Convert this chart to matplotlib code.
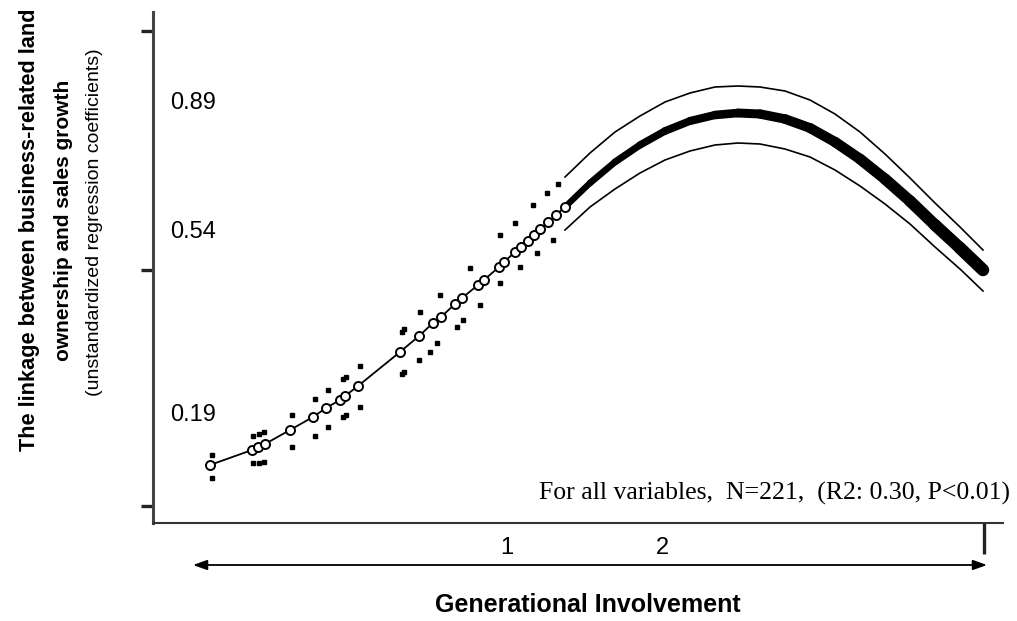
import numpy as np
import matplotlib
matplotlib.use("Agg")
import matplotlib.pyplot as plt
from matplotlib.collections import LineCollection

# observed points (left part of the curve, open circles)
obs_x = [5.7, 9.9, 10.5, 11.2, 13.7, 16.0, 17.3, 18.7, 19.2, 20.5, 24.7, 26.6, 28.0, 28.8,
         30.2, 30.9, 32.5, 33.1, 34.6, 35.1, 36.2, 36.8, 37.5, 38.1, 38.7, 39.5, 40.3, 41.2]
obs_y = [11.6, 14.6, 15.2, 15.8, 18.6, 21.2, 23.0, 24.6, 25.4, 27.4, 34.2, 37.4, 40.0, 41.2,
         43.8, 45.0, 47.6, 48.6, 51.2, 52.2, 54.2, 55.2, 56.4, 57.6, 58.8, 60.2, 61.6, 63.2]

# scattered confidence dots around the observed points
ci_hi_x = [5.9, 10.0, 10.6, 11.1, 13.9, 16.2, 17.5, 19.0, 19.3, 20.7, 24.9, 25.1, 26.7, 28.7,
           31.7, 34.7, 36.2, 38.0, 39.4, 40.5]
ci_hi_y = [13.6, 17.4, 17.8, 18.2, 21.6, 24.8, 26.6, 28.8, 29.2, 31.4, 38.2, 38.8, 42.2, 45.6,
           51.0, 57.6, 60.0, 63.6, 66.0, 67.8]
ci_lo_x = [5.9, 10.0, 10.6, 11.1, 13.9, 16.2, 17.5, 19.0, 19.3, 20.7, 24.9, 25.1, 26.6, 27.7,
           28.4, 30.4, 31.0, 32.7, 34.7, 36.7, 38.4, 40.0]
ci_lo_y = [9.0, 12.0, 12.0, 12.2, 15.2, 17.4, 19.2, 21.2, 21.6, 23.2, 29.8, 30.2, 32.6, 34.2,
           36.0, 39.2, 40.6, 43.6, 48.0, 51.2, 54.0, 56.6]

# fitted curve with band (right part)
fit_x = [41.2, 43.7, 46.2, 48.7, 51.2, 53.7, 56.2, 58.5, 60.7, 63.2, 65.7, 68.2, 70.7, 73.2,
         75.7, 78.2, 80.7, 83.0]
fit_y = [63.2, 68.0, 72.2, 75.6, 78.4, 80.4, 81.6, 82.0, 81.8, 80.8, 79.0, 76.2, 72.8, 68.8,
         64.4, 59.6, 55.0, 50.6]
fit_hi = [69.2, 74.0, 78.2, 81.4, 84.2, 86.0, 87.2, 87.4, 87.2, 86.4, 84.6, 81.8, 78.2, 73.8,
          69.0, 64.0, 59.2, 54.6]
fit_lo = [58.6, 63.2, 66.8, 70.0, 72.6, 74.4, 75.6, 76.0, 75.8, 74.8, 73.2, 70.6, 67.4, 63.8,
          59.8, 55.2, 50.8, 46.4]

level_labels = ["0.89", "0.54", "0.19"]
level_y = [84.0, 58.2, 21.6]
gen_labels = ["1", "2"]
gen_x = [35.4, 50.9]
y_ticks = [98.4, 50.6, 3.4]
x_end = 83.1

plt.rcParams['font.family'] = ['Liberation Sans', 'DejaVu Sans']

fig = plt.figure(figsize=(10.17, 6.21), dpi=100)
ax = fig.add_axes([153 / 1017, 98 / 621, 850 / 1017, 511 / 621])
ax.set_xlim(0, 85)
ax.set_ylim(0, 102.2)

# thick fitted curve, getting wider to the right
pts = np.column_stack([fit_x, fit_y])
segs = np.stack([pts[:-1], pts[1:]], axis=1)
widths = np.linspace(4.5, 9.0, len(segs))
lc = LineCollection(segs, linewidths=widths, colors='black', capstyle='round', joinstyle='round')
ax.add_collection(lc)

ax.plot(fit_x, fit_hi, color='black', lw=1.2)
ax.plot(fit_x, fit_lo, color='black', lw=1.2)

ax.plot(obs_x, obs_y, color='black', lw=1.3, marker='o', ms=6.5, mfc='white', mec='black', mew=1.4)
ax.plot(ci_hi_x, ci_hi_y, ls='none', marker='s', ms=2.2, color='black')
ax.plot(ci_lo_x, ci_lo_y, ls='none', marker='s', ms=2.2, color='black')

for lab, yy in zip(level_labels, level_y):
    ax.text(1.7, yy, lab, fontsize=17, va='center', ha='left')

for lab, xx in zip(gen_labels, gen_x):
    ax.text(xx, -5.0, lab, fontsize=17, va='center', ha='center', clip_on=False)

ax.text(85.7, 6.0, "For all variables,  N=221,  (R2: 0.30, P<0.01)", family='Liberation Serif',
        fontsize=18.5, ha='right', va='center', clip_on=False)

ax.annotate("", xy=(83.4, -8.4), xytext=(4.0, -8.4), xycoords='data', annotation_clip=False,
            arrowprops=dict(arrowstyle='<|-|>,head_length=0.7,head_width=0.25', color='black',
                            lw=1.3, mutation_scale=12, shrinkA=0, shrinkB=0))

ax.text(43.5, -16.4, "Generational Involvement", fontsize=18, fontweight='bold',
        ha='center', va='center', clip_on=False)

# axes styling
for s in ['top', 'right']:
    ax.spines[s].set_visible(False)
ax.spines['left'].set_color('#444444')
ax.spines['left'].set_linewidth(2.2)
ax.spines['bottom'].set_color('#333333')
ax.spines['bottom'].set_linewidth(1.5)
ax.set_yticks(y_ticks)
ax.set_xticks([x_end])
ax.tick_params(axis='y', length=9, width=2.4, direction='out', labelleft=False, color='#222222')
ax.tick_params(axis='x', length=22, width=2.4, direction='out', labelbottom=False, color='#222222')

# y label, three lines
fig.text(30 / 1017, 1 - 230 / 621, "The linkage between business-related land", rotation=90,
         fontsize=15.7, fontweight='bold', ha='center', va='center')
fig.text(64 / 1017, 1 - 220 / 621, "ownership and sales growth", rotation=90,
         fontsize=15, fontweight='bold', ha='center', va='center')
fig.text(95 / 1017, 1 - 222 / 621, "(unstandardized regression coefficients)", rotation=90,
         fontsize=14, ha='center', va='center')

fig.savefig("out.png", dpi=100)
